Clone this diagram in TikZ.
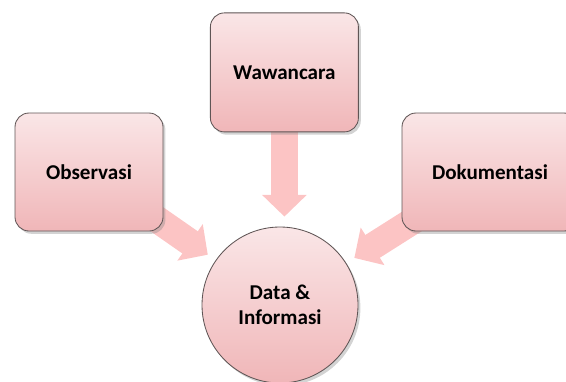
\documentclass[tikz,border=0pt]{standalone}
\usepackage{fontspec}
\setmainfont{Carlito}
\usetikzlibrary{arrows.meta,shadows}

\definecolor{boxtop}{RGB}{250,230,231}
\definecolor{boxbottom}{RGB}{240,182,184}
\definecolor{arrowpink}{RGB}{252,196,196}
\definecolor{edgegray}{RGB}{95,85,85}

\begin{document}
\begin{tikzpicture}[
    every node/.style={font=\fontsize{15}{18}\selectfont\bfseries},
    box/.style={
        draw=edgegray,
        line width=0.6pt,
        rounded corners=0.35cm,
        top color=boxtop,
        bottom color=boxbottom,
        drop shadow={opacity=0.35, shadow xshift=0.06cm, shadow yshift=-0.07cm},
        minimum width=3.7cm,
        minimum height=2.95cm,
        align=center
    },
    hub/.style={
        circle,
        draw=edgegray,
        line width=0.6pt,
        top color=boxtop,
        bottom color=boxbottom,
        drop shadow={opacity=0.35, shadow xshift=0.06cm, shadow yshift=-0.07cm},
        minimum size=3.9cm,
        align=center
    },
    bigarrow/.style={
        draw=arrowpink,
        line width=0.675cm,
        -{Triangle[width=0pt 1.6, length=0pt 0.8]}
    }
]

\clip (0,0) rectangle (14.15,-9.525);
\useasboundingbox (0,0) rectangle (14.15,-9.525);

% Centre
\node[hub] (data) at (7.0,-7.625) {Data \&\\Informasi};

% Sources (only coordinates first, arrows go below the boxes)
\coordinate (obspos) at (2.225,-4.3);
\coordinate (wawpos) at (7.11,-1.81);
\coordinate (dokpos) at (12.25,-4.3);

% Arrows
\draw[bigarrow, shorten >=2.2cm] (obspos) -- (data.center);
\draw[bigarrow, shorten >=0.25cm] (wawpos) -- (wawpos |- data.north);
\draw[bigarrow, shorten >=2.2cm] (dokpos) -- (data.center);

% Boxes
\node[box] (obs) at (obspos) {Observasi};
\node[box, minimum height=2.975cm] (waw) at (wawpos) {Wawancara};
\node[box, minimum width=4.4cm] (dok) at (dokpos) {Dokumentasi};

\end{tikzpicture}
\end{document}
